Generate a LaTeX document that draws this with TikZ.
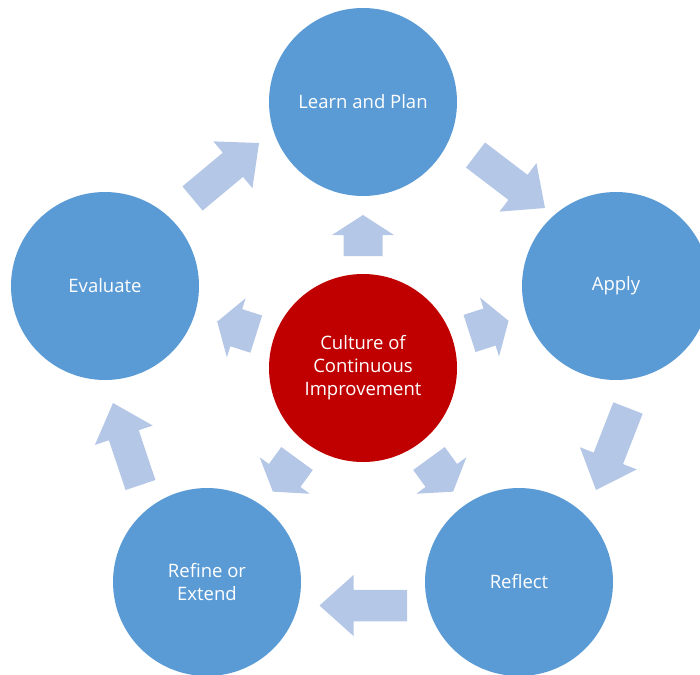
\documentclass[tikz,border=0pt]{standalone}
\usepackage{fontspec}
\setmainfont{Open Sans}
\usetikzlibrary{calc}

\definecolor{stageblue}{HTML}{5B9BD5}
\definecolor{corered}{HTML}{C00000}
\definecolor{arrowblue}{HTML}{B4C7E7}

% block arrow: #1 tail, #2 tip, #3 half shaft, #4 half head, #5 head length
\newcommand{\blockarrow}[5]{%
  \coordinate (ah) at ($(#2)!#5!(#1)$);
  \fill[arrowblue] ($(#1)!#3!90:(#2)$) -- ($(ah)!#3!90:(#2)$) -- ($(ah)!#4!90:(#2)$) -- (#2)
    -- ($(ah)!#4!-90:(#2)$) -- ($(ah)!#3!-90:(#2)$) -- ($(#1)!#3!-90:(#2)$) -- cycle;}

\begin{document}
\begin{tikzpicture}[x=1pt, y=-1pt,
    stage/.style={circle, fill=stageblue, text=white, minimum size=188pt, inner sep=0pt, align=center, font=\fontsize{18.5}{23}\selectfont},
    core/.style={stage, fill=corered}
]
    \useasboundingbox (0,0) rectangle (700,674);

    \node[core] (core) at (363,368) {Culture of\\Continuous\\Improvement};
    \node[stage] (learn) at (363,102) {Learn and Plan};
    \node[stage] (apply) at (616,286) {Apply};
    \node[stage] (reflect) at (519,582) {Reflect};
    \node[stage] (refine) at (207,582) {Refine or\\Extend};
    \node[stage] (evaluate) at (105,286) {Evaluate};

    % arrows out of the core
    \foreach \s in {learn, apply, reflect, refine, evaluate} {
        \coordinate (a) at ($(core)!112pt!(\s)$);
        \coordinate (b) at ($(core)!153pt!(\s)$);
        \blockarrow{a}{b}{19.5pt}{31pt}{20pt}
    }

    % cycle arrows between the stages
    \coordinate (evaluate-out) at (192.5,198.5); \coordinate (learn-in) at (259,143);
    \coordinate (learn-out) at (475.5,155);      \coordinate (apply-in) at (545,208);
    \coordinate (apply-out) at (628,408);        \coordinate (reflect-in) at (596,490);
    \coordinate (reflect-out) at (407,605.5);    \coordinate (refine-in) at (319.5,605.5);
    \coordinate (refine-out) at (140.5,485);     \coordinate (evaluate-in) at (113,403);
    \blockarrow{evaluate-out}{learn-in}{15.75pt}{30.5pt}{34pt}
    \blockarrow{learn-out}{apply-in}{15.75pt}{30.5pt}{34pt}
    \blockarrow{apply-out}{reflect-in}{15.75pt}{30.5pt}{34pt}
    \blockarrow{reflect-out}{refine-in}{15.75pt}{30.5pt}{34pt}
    \blockarrow{refine-out}{evaluate-in}{15.75pt}{30.5pt}{34pt}
\end{tikzpicture}
\end{document}
